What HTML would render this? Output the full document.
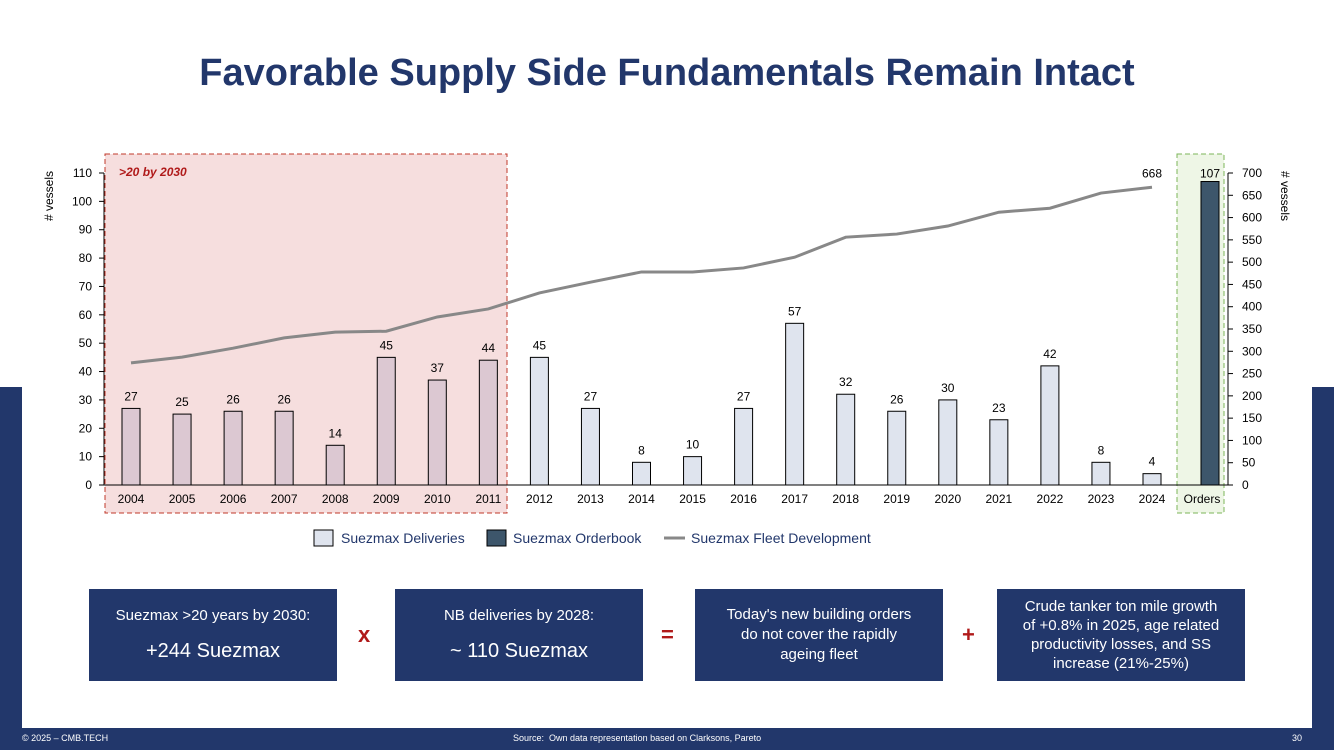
<!DOCTYPE html>
<html><head><meta charset="utf-8">
<style>
body{margin:0;width:1334px;height:750px;position:relative;overflow:hidden;background:#fff;font-family:"Liberation Sans",sans-serif}
.navy{position:absolute;left:0;top:387px;width:1334px;height:363px;background:#22376b}
.panel{position:absolute;left:22px;top:25px;width:1290px;height:703px;background:#fff}
.title{position:absolute;left:0;width:1334px;top:52px;text-align:center;font-size:38px;font-weight:bold;color:#22376b}
.box{position:absolute;top:589px;height:92px;width:248px;background:#22376b;color:#fff;display:flex;flex-direction:column;justify-content:center;align-items:center;text-align:center}
.op{position:absolute;top:622px;color:#b01a1a;font-weight:bold;font-size:22px}
.foot{position:absolute;top:733px;font-size:9px;color:#fff}
</style></head><body>
<div class="navy"></div>
<div class="panel"></div>
<div class="title">Favorable Supply Side Fundamentals Remain Intact</div>
<svg id="chart" style="position:absolute;left:0;top:0" width="1334" height="580"></svg>
<div class="box" style="left:89px"><div style="font-size:15px">Suezmax &gt;20 years by 2030:</div><div style="font-size:20px;margin-top:16px">+244 Suezmax</div></div>
<div class="op" style="left:358px">x</div>
<div class="box" style="left:395px"><div style="font-size:15px">NB deliveries by 2028:</div><div style="font-size:20px;margin-top:16px">~ 110 Suezmax</div></div>
<div class="op" style="left:661px">=</div>
<div class="box" style="left:695px;font-size:15px;line-height:20px">Today's new building orders<br>do not cover the rapidly<br>ageing fleet</div>
<div class="op" style="left:962px">+</div>
<div class="box" style="left:997px;font-size:15px;line-height:19px">Crude tanker ton mile growth<br>of +0.8% in 2025, age related<br>productivity losses, and SS<br>increase (21%-25%)</div>
<div class="foot" style="left:22px">© 2025 – CMB.TECH</div>
<div class="foot" style="left:513px">Source:&nbsp; Own data representation based on Clarksons, Pareto</div>
<div class="foot" style="left:1292px">30</div>
<script>
const categories=["2004","2005","2006","2007","2008","2009","2010","2011","2012","2013","2014","2015","2016","2017","2018","2019","2020","2021","2022","2023","2024"];
const deliveries=[27,25,26,26,14,45,37,44,45,27,8,10,27,57,32,26,30,23,42,8,4];
const fleet=[274,287,307,330,343,345,377,395,431,455,478,478,487,511,556,563,581,612,621,655,668];
const orderbook=[107];
const leftTicks=[0,10,20,30,40,50,60,70,80,90,100,110];
const rightTicks=[0,50,100,150,200,250,300,350,400,450,500,550,600,650,700];
const NS="http://www.w3.org/2000/svg";
const svg=document.getElementById('chart');
function mk(t,a,txt){const e=document.createElementNS(NS,t);for(const k in a)e.setAttribute(k,a[k]);if(txt!==undefined)e.textContent=txt;svg.appendChild(e);return e;}
const y0=485,y1=173;
const yL=v=>y0-(v/110)*(y0-y1);
const yR=v=>y0-(v/700)*(y0-y1);
const xC=i=>131+i*51.05;
const xOrders=1210;
let r;
r=mk('rect',{x:105,y:154,width:402,height:359,fill:'#f6dede',stroke:'#c0392b','stroke-dasharray':'5,3'});

r=mk('rect',{x:1177,y:154,width:47,height:359,fill:'#eef6e6',stroke:'#7cb55a','stroke-dasharray':'5,3'});

r=mk('text',{x:119,y:176,'font-size':12,'font-weight':'bold','font-style':'italic',fill:'#b01a1a'},'>20 by 2030');

mk('line',{x1:104,y1:y0,x2:1228,y2:y0,stroke:'#000'});
mk('line',{x1:104,y1:y1,x2:104,y2:y0,stroke:'#000'});
mk('line',{x1:1228,y1:y1,x2:1228,y2:y0,stroke:'#000'});
leftTicks.forEach(v=>{mk('line',{x1:99,y1:yL(v),x2:104,y2:yL(v),stroke:'#000'});
r=mk('text',{x:92,y:yL(v)+4,'font-size':12,'text-anchor':'end'},v);});
rightTicks.forEach(v=>{mk('line',{x1:1228,y1:yR(v),x2:1233,y2:yR(v),stroke:'#000'});
r=mk('text',{x:1242,y:yR(v)+4,'font-size':12},v);});
r=mk('text',{x:0,y:0,'font-size':12,transform:'translate(53,196) rotate(-90)','text-anchor':'middle'},'# vessels');
r=mk('text',{x:0,y:0,'font-size':12,transform:'translate(1281,196) rotate(90)','text-anchor':'middle'},'# vessels');
deliveries.forEach((v,i)=>{const x=xC(i);
r=mk('rect',{x:x-9,y:yL(v),width:18,height:y0-yL(v),fill:i<8?'#dcc8d2':'#dfe4ee',stroke:'#000','stroke-width':1});

r=mk('text',{x:x,y:yL(v)-8,'font-size':12,'text-anchor':'middle'},v);
r=mk('text',{x:x,y:503,'font-size':12,'text-anchor':'middle'},categories[i]);});
r=mk('rect',{x:xOrders-9,y:yR(orderbook[0]*700/110),width:18,height:y0-yR(orderbook[0]*700/110),fill:'#3d566b',stroke:'#000'});

r=mk('text',{x:xOrders,y:yL(orderbook[0])-4,'font-size':12,'text-anchor':'middle'},orderbook[0]);
r=mk('text',{x:xOrders-8,y:503,'font-size':12,'text-anchor':'middle'},'Orders');
r=mk('polyline',{points:fleet.map((v,i)=>xC(i)+','+yR(v)).join(' '),fill:'none',stroke:'#888',"stroke-width":3});

r=mk('text',{x:xC(20),y:yR(fleet[20])-10,'font-size':12,'text-anchor':'middle'},fleet[20]);
r=mk('rect',{x:314,y:530,width:19,height:16,fill:'#dfe4ee',stroke:'#000'});
r=mk('text',{x:341,y:543,'font-size':14,fill:'#22376b'},'Suezmax Deliveries');
r=mk('rect',{x:487,y:530,width:19,height:16,fill:'#3d566b',stroke:'#000'});
r=mk('text',{x:513,y:543,'font-size':14,fill:'#22376b'},'Suezmax Orderbook');
r=mk('line',{x1:664,y1:538,x2:685,y2:538,stroke:'#888','stroke-width':3});
r=mk('text',{x:691,y:543,'font-size':14,fill:'#22376b'},'Suezmax Fleet Development');
</script>
</body></html>
